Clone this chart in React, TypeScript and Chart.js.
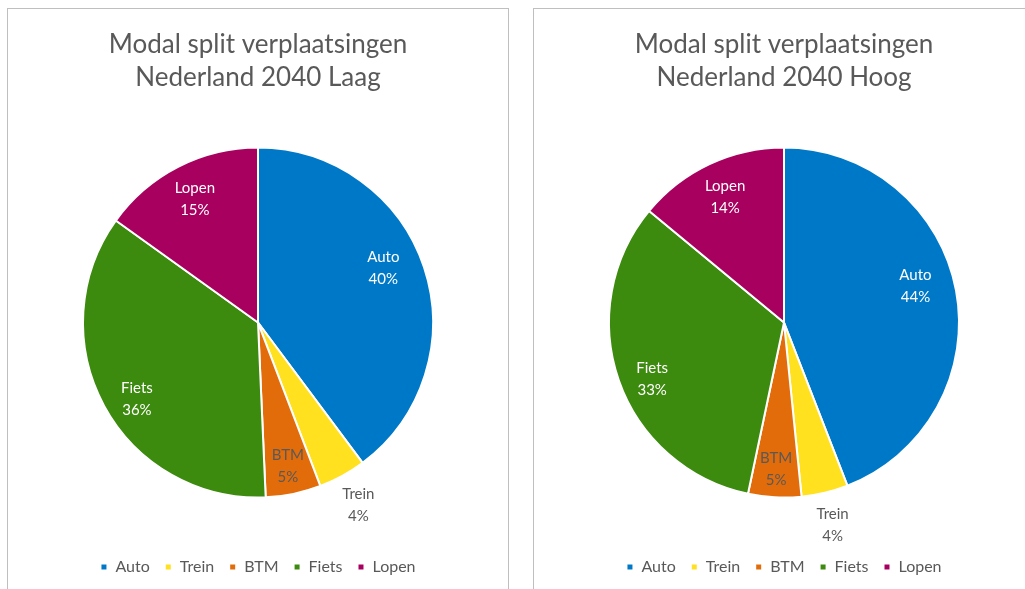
import React, { useEffect, useRef } from "react";
import { Chart, registerables } from "chart.js";

Chart.register(...registerables);

const categories = ["Auto", "Trein", "BTM", "Fiets", "Lopen"];
const valuesLaag = [39.8, 4.4, 5.1, 35.6, 15.1];
const valuesHoog = [44.1, 4.3, 4.9, 32.7, 14.0];
const titleLaag = ["Modal split verplaatsingen", "Nederland 2040 Laag"];
const titleHoog = ["Modal split verplaatsingen", "Nederland 2040 Hoog"];

const sliceColors = ["#0078C8", "#FFE11F", "#E36C0A", "#3C8A0E", "#A8005F"];
const labelColors = ["#FFFFFF", "#595959", "#595959", "#FFFFFF", "#FFFFFF"];
const labelRadius = [0.78, 1.19, 0.84, 0.82, 0.79];
const labelAngleNudgeDeg = [-5, 0, 0, -4, 0];

const FONT = "Lato, 'Open Sans', sans-serif";

const labelPlugin = {
  id: "sliceLabels",
  afterDatasetsDraw(chart: any) {
    const ctx = chart.ctx;
    const meta = chart.getDatasetMeta(0);
    const data = chart.data.datasets[0].data as number[];
    const total = data.reduce((a, b) => a + b, 0);
    ctx.save();
    ctx.font = `15px ${FONT}`;
    ctx.textAlign = "center";
    ctx.textBaseline = "middle";
    meta.data.forEach((arc: any, i: number) => {
      const { x, y, startAngle, endAngle, outerRadius } = arc.getProps(
        ["x", "y", "startAngle", "endAngle", "outerRadius"],
        true
      );
      const mid = (startAngle + endAngle) / 2 + (labelAngleNudgeDeg[i] * Math.PI) / 180;
      const r = outerRadius * labelRadius[i];
      const lx = x + Math.cos(mid) * r;
      const ly = y + Math.sin(mid) * r;
      const pct = Math.round((data[i] / total) * 100) + "%";
      ctx.fillStyle = labelColors[i];
      ctx.fillText(chart.data.labels[i], lx, ly - 11);
      ctx.fillText(pct, lx, ly + 11);
    });
    ctx.restore();
  },
};

function PieChart({ values, title }: { values: number[]; title: string[] }) {
  const ref = useRef<HTMLCanvasElement>(null);
  useEffect(() => {
    if (!ref.current) return;
    const chart = new Chart(ref.current, {
      type: "pie",
      data: {
        labels: categories,
        datasets: [
          {
            data: values,
            backgroundColor: sliceColors,
            borderColor: "#FFFFFF",
            borderWidth: 2,
            radius: 175,
          },
        ],
      },
      options: {
        animation: false,
        responsive: false,
        events: [],
        layout: { padding: { top: 0, bottom: 4, left: 0, right: 0 } },
        plugins: {
          title: {
            display: true,
            text: title,
            color: "#595959",
            font: { family: FONT, size: 26, weight: "normal", lineHeight: 1.27 },
            padding: { top: 19, bottom: 7 },
          },
          legend: {
            display: true,
            position: "bottom",
            labels: {
              color: "#595959",
              font: { family: FONT, size: 16 },
              boxWidth: 7,
              boxHeight: 7,
              padding: 15,
            },
          },
          tooltip: { enabled: false },
        },
      },
      plugins: [labelPlugin],
    });
    return () => chart.destroy();
  }, [values, title]);
  return <canvas ref={ref} width={500} height={580} style={{ display: "block" }} />;
}

export default function App() {
  const panel: React.CSSProperties = {
    position: "absolute",
    top: 8,
    width: 500,
    height: 600,
    border: "1px solid #BFBFBF",
    background: "#FFFFFF",
  };
  return (
    <div>
      <div style={{ ...panel, left: 7 }}>
        <PieChart values={valuesLaag} title={titleLaag} />
      </div>
      <div style={{ ...panel, left: 533 }}>
        <PieChart values={valuesHoog} title={titleHoog} />
      </div>
    </div>
  );
}
